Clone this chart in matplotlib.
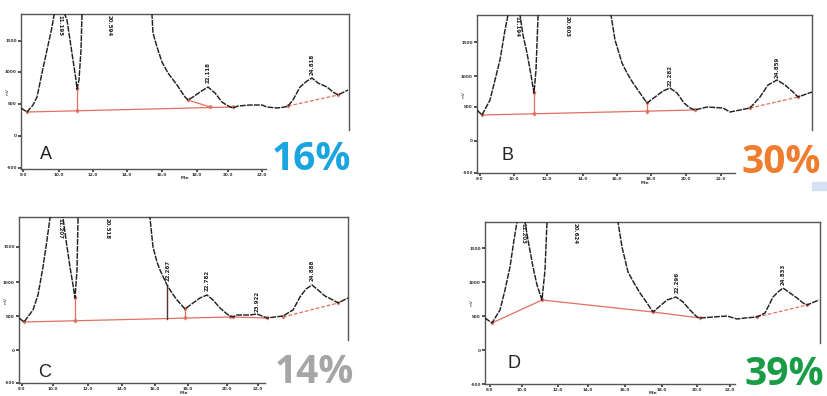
import matplotlib
matplotlib.use("Agg")
import matplotlib.pyplot as plt
from matplotlib.patches import Rectangle

# =========================
# Data
# (x: scan position from the left axis, y: signal above the bottom axis)
# =========================

# Panel A
a_x = [0, 6, 12, 16, 21, 26, 31, 33, 38, 44, 46, 49, 52, 55, 56, 58, 60, 61, 62,
       129, 131, 132, 136, 141, 147, 156, 164, 167, 172, 179, 187, 194, 201, 207, 212,
       217, 229, 241, 246, 256, 264, 267, 272, 279, 286, 291, 297, 306, 312, 317, 327]
a_y = [61, 57, 64, 72, 96, 119, 142, 154, 175, 154, 149, 129, 109, 89, 80, 89, 119, 154, 200,
       200, 154, 136, 122, 107, 96, 84, 72, 69, 72, 77, 82, 76, 67, 63, 61,
       63, 64, 64, 62, 61, 62, 63, 69, 82, 88, 91, 86, 82, 77, 74, 79]
a_base = [([6, 212], [57, 62]), ([56, 56], [80, 58]), ([167, 189], [69, 62])]
a_dash = ([267, 317], [63, 74])
a_peaks = [(39, None, "11.195"), (88, None, "20.594"), (187, 84, "22.118"), (291, 92, "24.818")]

# Panel B
b_x = [0, 5, 13, 18, 23, 28, 31, 38, 43, 46, 50, 54, 57, 59, 61, 62,
       132, 134, 138, 145, 150, 156, 163, 170, 178, 186, 193, 200, 207, 213, 218,
       230, 246, 253, 263, 273, 283, 291, 300, 308, 316, 321, 335]
b_y = [63, 58, 73, 93, 113, 143, 158, 180, 158, 138, 120, 98, 80, 103, 156, 200,
       200, 158, 133, 110, 100, 90, 80, 70, 76, 82, 85, 80, 70, 65, 63,
       66, 65, 61, 63, 65, 76, 88, 93, 88, 81, 76, 81]
b_base = [([5, 218], [58, 63]), ([57, 57], [80, 59]), ([170, 170], [70, 61])]
b_dash = ([273, 321], [65, 76])
b_peaks = [(40, None, "11.194"), (90, None, "20.603"), (193, 85, "22.282"), (300, 93, "24.859")]

# Panel C
c_x = [0, 5, 14, 19, 24, 28, 31, 38, 44, 47, 51, 54, 56, 58, 59, 60,
       129, 131, 134, 138, 141, 148, 153, 158, 166, 174, 181, 188, 194, 201, 208, 211,
       214, 218, 224, 231, 238, 243, 248, 256, 264, 274, 281, 287, 293, 299, 306, 314, 319, 329]
c_y = [65, 61, 73, 88, 116, 143, 165, 190, 165, 143, 116, 98, 85, 113, 163, 210,
       210, 165, 136, 121, 113, 98, 90, 83, 74, 80, 85, 88, 83, 75, 69, 67,
       66, 68, 68, 68, 69, 67, 65, 66, 67, 73, 86, 94, 98, 93, 87, 83, 80, 85]
c_base = [([5, 211], [61, 66]), ([56, 56], [85, 62]), ([166, 166], [74, 65]), ([214, 248], [66, 65])]
c_drop = ([148, 148], [98, 64])
c_dash = ([264, 319], [66, 80])
c_peaks = [(41, None, "11.207"), (88, None, "20.518"), (149, 100, "22.267"),
           (188, 90, "22.782"), (238, 69, "23.922"), (293, 100, "24.888")]

# Panel D
d_x = [0, 7, 15, 20, 25, 29, 32, 38, 40, 43, 48, 52, 57, 60, 62, 63,
       131, 133, 137, 143, 149, 155, 162, 168, 175, 182, 191, 198, 205, 212, 215,
       228, 242, 252, 260, 272, 280, 288, 293, 298, 305, 312, 318, 322, 334]
d_y = [66, 61, 74, 94, 117, 144, 162, 190, 162, 144, 117, 99, 84, 114, 162, 210,
       210, 162, 137, 112, 101, 91, 81, 72, 78, 84, 87, 82, 74, 67, 66,
       67, 68, 65, 66, 67, 71, 87, 92, 96, 91, 86, 81, 79, 84]
d_base = [([7, 57, 168, 215], [61, 84, 72, 66])]
d_dash = ([272, 322], [67, 79])
d_peaks = [(38, None, "11.203"), (90, None, "20.624"), (192, 89, "22.296"), (298, 97, "24.833")]

x_tick_labels = ["8.0", "10.0", "12.0", "14.0", "16.0", "18.0", "20.0", "22.0"]
y_tick_labels = ["-500", "0", "500", "1000", "1500"]

letters = ["A", "B", "C", "D"]
percents = ["16%", "30%", "14%", "39%"]
percent_colors = ["#1ba5e0", "#ef7d2d", "#a6a6a6", "#1a9c47"]

# =========================
# Layout (figure pixels: left, top, right, bottom of each plot frame)
# =========================
W, H = 828, 396
frames = [(21, 14, 349, 169), (477, 15, 812, 173), (19, 217, 348, 383), (485, 222, 820, 384)]
x_ticks = [[2, 38, 72, 106, 141, 176, 207, 241],
           [3, 37, 70, 106, 140, 174, 209, 244],
           [3, 34, 69, 103, 136, 169, 208, 239],
           [5, 37, 73, 103, 140, 177, 212, 245]]
y_ticks = [[1, 33, 65, 97, 128], [0, 32, 66, 97, 131], [0, 33, 67, 101, 136], [0, 34, 68, 102, 136]]
right_spine_low = [39, 43, 43, 41]
bottom_spine_end = [245, 258, 246, 250]
letter_pos = [(40, 159), (502, 160), (38, 377), (508, 368)]
pct_pos = [(351, 170), (821, 173), (354, 383), (824, 385)]

panels = [
    (a_x, a_y, a_base, None, a_dash, a_peaks),
    (b_x, b_y, b_base, None, b_dash, b_peaks),
    (c_x, c_y, c_base, c_drop, c_dash, c_peaks),
    (d_x, d_y, d_base, None, d_dash, d_peaks),
]

fig = plt.figure(figsize=(W / 100, H / 100), dpi=100)
red = "#e0705f"

for i, (px, py, bases, drop, dash, peaks) in enumerate(panels):
    l, t, r, b = frames[i]
    ax = fig.add_axes([l / W, 1 - b / H, (r - l) / W, (b - t) / H])
    ax.set_xlim(0, r - l)
    ax.set_ylim(0, b - t)

    ax.plot(px, py, color="#222222", linewidth=1.05, linestyle=(0, (4, 0.8)), zorder=3)
    for bx, by in bases:
        ax.plot(bx, by, color=red, linewidth=0.9, zorder=2)
        ax.plot(bx, by, color=red, linestyle="none", marker="v", markersize=2, zorder=2)
    if drop is not None:
        ax.plot(drop[0], drop[1], color="#5a3030", linewidth=1.0, zorder=2)
    ax.plot(dash[0], dash[1], color=red, linewidth=0.9, linestyle=(0, (3, 1.5)), zorder=2)
    ax.plot(dash[0], dash[1], color=red, linestyle="none", marker="v", markersize=2, zorder=2)

    for xp, yp, lab in peaks:
        if yp is None:
            ax.text(xp, b - t - 1, lab, rotation=270, fontsize=4, color="#222222",
                    ha="center", va="top", fontweight="bold")
        else:
            ax.text(xp, yp + 2, lab, rotation=90, fontsize=4, color="#222222",
                    ha="center", va="bottom", fontweight="bold")

    # frame
    for s in ax.spines.values():
        s.set_color("#555555")
        s.set_linewidth(1.0)
    ax.spines["right"].set_bounds(right_spine_low[i], b - t)
    ax.spines["bottom"].set_bounds(0, bottom_spine_end[i])

    ax.set_xticks(x_ticks[i])
    ax.set_xticklabels(x_tick_labels, fontweight="bold")
    ax.set_yticks(y_ticks[i])
    ax.set_yticklabels(y_tick_labels, fontweight="bold")
    ax.tick_params(axis="both", labelsize=3, colors="#333333", length=2, width=1.2, pad=1)
    ax.set_xlabel("Min", fontsize=3, color="#333333", fontweight="bold")
    ax.xaxis.set_label_coords(0.5, -7.5 / (b - t))
    ax.set_ylabel("mV", fontsize=3, color="#333333")
    ax.yaxis.set_label_coords(-11 / (r - l), 0.5)

    fig.text(letter_pos[i][0] / W, 1 - letter_pos[i][1] / H, letters[i],
             fontsize=13, color="#222222", family="Liberation Sans",
             ha="left", va="baseline")
    fig.text(pct_pos[i][0] / W, 1 - pct_pos[i][1] / H, percents[i],
             fontsize=28, color=percent_colors[i], family="Open Sans", fontweight="bold",
             ha="right", va="baseline")

# small light-blue patch at the right edge
fig.patches.append(Rectangle((812 / W, 1 - 190 / H), 16 / W, 8 / H,
                             transform=fig.transFigure, color="#d6e2f3", zorder=0))

fig.savefig("out.png", dpi=100)
